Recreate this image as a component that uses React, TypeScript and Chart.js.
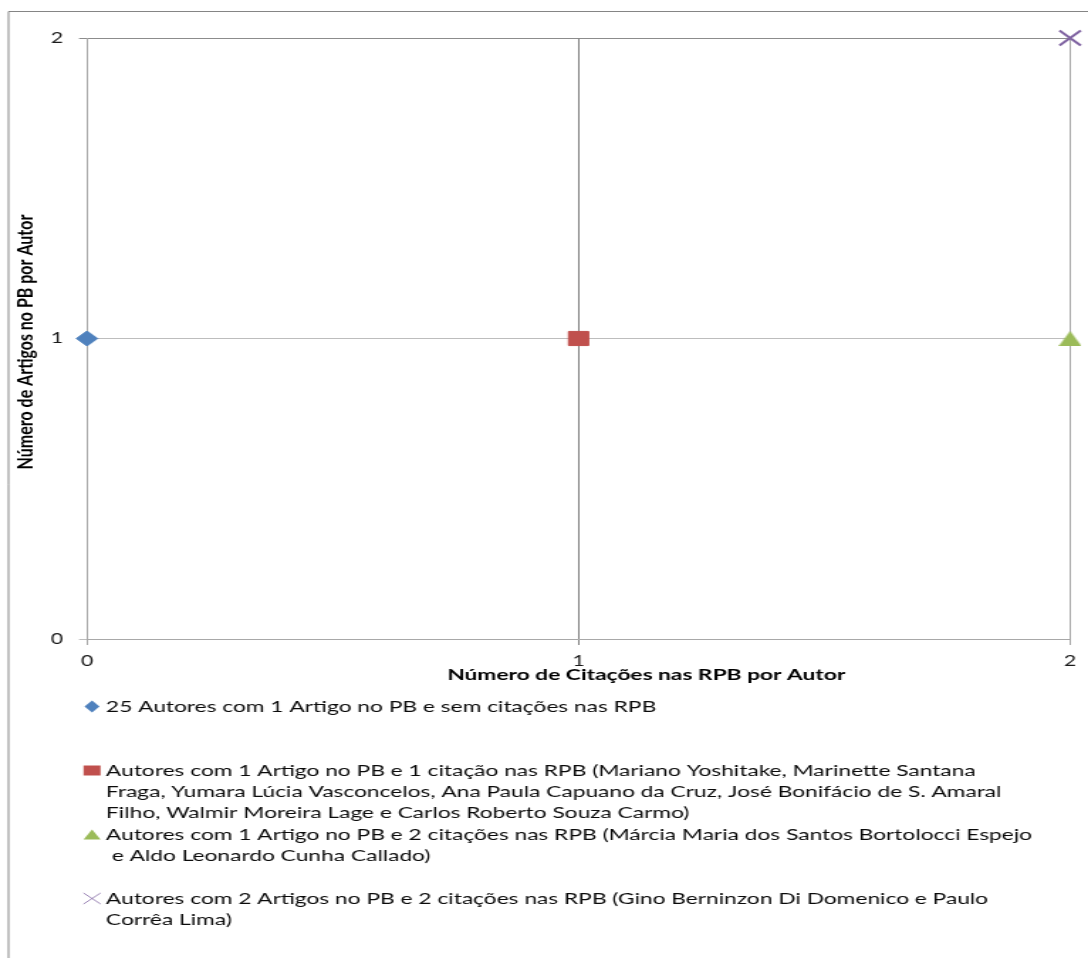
import { useEffect, useRef } from 'react';
import { Chart, registerables } from 'chart.js';

Chart.register(...registerables);

// ---- data ----
const seriesLabels: string[][] = [
  ['25 Autores com 1 Artigo no PB e sem citações nas RPB'],
  [
    'Autores com 1 Artigo no PB e 1 citação nas RPB (Mariano Yoshitake, Marinette Santana',
    'Fraga, Yumara Lúcia Vasconcelos, Ana Paula Capuano da Cruz, José Bonifácio de S. Amaral',
    'Filho, Walmir Moreira Lage e Carlos Roberto Souza Carmo)',
  ],
  [
    'Autores com 1 Artigo no PB e 2 citações nas RPB (Márcia Maria dos Santos Bortolocci Espejo',
    ' e Aldo Leonardo Cunha Callado)',
  ],
  [
    'Autores com 2 Artigos no PB e 2 citações nas RPB (Gino Berninzon Di Domenico e Paulo',
    'Corrêa Lima)',
  ],
];
const citationCounts = [0, 1, 2, 2];
const articleCounts = [1, 1, 1, 2];
const seriesColors = ['#4f81bd', '#c0504d', '#9bbb59', '#8064a2'];
const seriesMarkers = ['rectRot', 'rect', 'triangle', 'crossRot'];
const xAxisTitle = 'Número de Citações nas RPB por Autor';
const yAxisTitle = 'Número de Artigos no PB por Autor';
const axisMin = 0;
const axisMax = 2;
const axisStep = 1;

// ---- layout (the drawing surface is rendered narrow and widened by CSS) ----
const CANVAS_W = 766;
const CANVAS_H = 958;
const DISPLAY_W = 1088;
const FONT = 'Lato, "Open Sans", sans-serif';

// triangle centred on its bounding box rather than its circumcentre
function makeTriangleSprite(color: string): HTMLCanvasElement {
  const c = document.createElement('canvas');
  c.width = 16;
  c.height = 15;
  const g = c.getContext('2d')!;
  g.fillStyle = color;
  g.beginPath();
  g.moveTo(8, 0);
  g.lineTo(16, 15);
  g.lineTo(0, 15);
  g.closePath();
  g.fill();
  return c;
}

function drawLegendMarker(ctx: CanvasRenderingContext2D, kind: string, color: string, x: number, y: number) {
  ctx.save();
  ctx.fillStyle = color;
  ctx.strokeStyle = color;
  ctx.beginPath();
  if (kind === 'rectRot') {
    ctx.moveTo(x, y - 6);
    ctx.lineTo(x + 5.3, y);
    ctx.lineTo(x, y + 6);
    ctx.lineTo(x - 5.3, y);
    ctx.closePath();
    ctx.fill();
  } else if (kind === 'rect') {
    ctx.rect(x - 6, y - 5, 12, 10);
    ctx.fill();
  } else if (kind === 'triangle') {
    ctx.moveTo(x, y - 5);
    ctx.lineTo(x + 6, y + 5);
    ctx.lineTo(x - 6, y + 5);
    ctx.closePath();
    ctx.fill();
  } else {
    ctx.lineWidth = 0.8;
    ctx.moveTo(x - 6, y - 5.5);
    ctx.lineTo(x + 6, y + 5.5);
    ctx.moveTo(x + 6, y - 5.5);
    ctx.lineTo(x - 6, y + 5.5);
    ctx.stroke();
  }
  ctx.restore();
}

const decorations = {
  id: 'decorations',
  afterDraw(chart: Chart) {
    const ctx = chart.ctx;
    ctx.save();

    // outer frame (left and top edges)
    ctx.strokeStyle = '#858585';
    ctx.lineWidth = 1;
    ctx.beginPath();
    ctx.moveTo(6, CANVAS_H);
    ctx.lineTo(6, 11.5);
    ctx.lineTo(CANVAS_W, 11.5);
    ctx.stroke();

    // axis titles
    ctx.fillStyle = '#000000';
    ctx.textAlign = 'center';
    ctx.textBaseline = 'alphabetic';
    ctx.font = `bold 16px ${FONT}`;
    ctx.fillText(xAxisTitle, 455, 680);

    ctx.save();
    ctx.translate(23, 342);
    ctx.rotate(-Math.PI / 2);
    ctx.font = `bold 16px ${FONT}`;
    ctx.fillText(yAxisTitle, 0, 0);
    ctx.restore();

    // legend
    const firstBaselines = [712, 776, 840, 904];
    const lineGap = 21;
    ctx.font = `16px ${FONT}`;
    ctx.textAlign = 'left';
    ctx.fillStyle = '#0a0a0a';
    seriesLabels.forEach((lines, i) => {
      const base = firstBaselines[i];
      drawLegendMarker(ctx, seriesMarkers[i], seriesColors[i], 64.8, base - 5.5);
      lines.forEach((line, j) => {
        ctx.fillText(line, 74.6, base + j * lineGap);
      });
    });

    ctx.restore();
  },
};

export default function App() {
  const canvasRef = useRef<HTMLCanvasElement | null>(null);

  useEffect(() => {
    const canvas = canvasRef.current;
    if (!canvas) return;

    const pointRadius = [7.5, 10, 10, 10.6];
    const triangleSprite = makeTriangleSprite(seriesColors[2]);
    const datasets = seriesLabels.map((lines, i) => ({
      label: lines.join(' '),
      data: [{ x: citationCounts[i], y: articleCounts[i] }],
      pointStyle: (seriesMarkers[i] === 'triangle' ? triangleSprite : seriesMarkers[i]) as any,
      pointRadius: pointRadius[i],
      pointHoverRadius: pointRadius[i],
      backgroundColor: seriesColors[i],
      borderColor: seriesColors[i],
      pointBorderWidth: i === 3 ? 2 : 1,
      showLine: false,
      clip: false as any,
    }));

    const chart = new Chart(canvas, {
      type: 'scatter',
      data: { datasets },
      options: {
        responsive: false,
        animation: false,
        devicePixelRatio: 1,
        layout: { padding: { top: 38, left: 0, right: 11.3, bottom: 0 } },
        plugins: {
          legend: { display: false },
          tooltip: { enabled: false },
        },
        scales: {
          x: {
            type: 'linear',
            min: axisMin,
            max: axisMax,
            afterFit: (scale: any) => {
              scale.height = 319;
            },
            ticks: {
              stepSize: axisStep,
              padding: 7,
              color: '#1a1a1a',
              font: { family: FONT, size: 15 },
            },
            grid: {
              color: (c: any) => (c.tick && c.tick.value === 1 ? '#808080' : '#a8a8a8'),
              tickLength: 6,
              lineWidth: 1,
            },
            border: { color: '#a8a8a8', width: 1 },
          },
          y: {
            type: 'linear',
            min: axisMin,
            max: axisMax,
            afterFit: (scale: any) => {
              scale.width = 61.25;
            },
            ticks: {
              stepSize: axisStep,
              padding: 11.2,
              color: '#1a1a1a',
              font: { family: FONT, size: 15 },
            },
            grid: {
              color: (c: any) => (c.tick && c.tick.value === 2 ? '#8c8c8c' : '#bdbdbd'),
              tickLength: 5.6,
              lineWidth: 1,
            },
            border: { color: '#a8a8a8', width: 1 },
          },
        },
      },
      plugins: [decorations],
    });

    return () => chart.destroy();
  }, []);

  return (
    <div style={{ position: 'fixed', left: 0, top: 0, width: DISPLAY_W, height: CANVAS_H, background: '#ffffff', overflow: 'hidden' }}>
      <canvas
        ref={canvasRef}
        width={CANVAS_W}
        height={CANVAS_H}
        style={{ width: DISPLAY_W + 'px', height: CANVAS_H + 'px', display: 'block' }}
      />
    </div>
  );
}
